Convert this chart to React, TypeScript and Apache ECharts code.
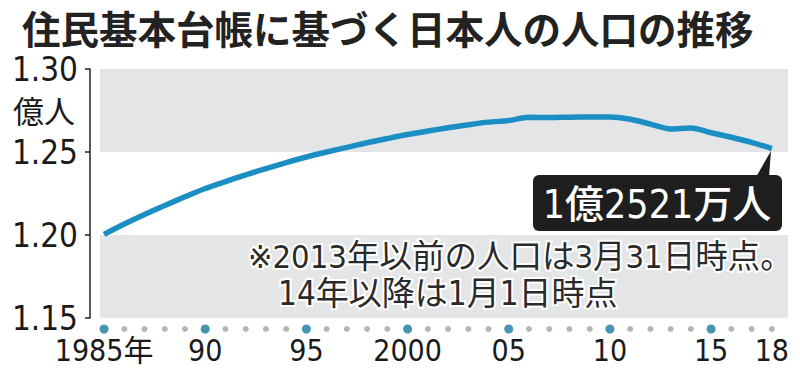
import React, { useEffect, useRef } from "react";
import * as echarts from "echarts";

const years = [
  1985, 1986, 1987, 1988, 1989, 1990, 1991, 1992, 1993, 1994, 1995, 1996,
  1997, 1998, 1999, 2000, 2001, 2002, 2003, 2004, 2005, 2006, 2007, 2008,
  2009, 2010, 2011, 2012, 2013, 2014, 2015, 2016, 2017, 2018,
];
const population = [
  1.2004, 1.2066, 1.2124, 1.2178, 1.223, 1.228, 1.2322, 1.2362, 1.24, 1.2436,
  1.247, 1.25, 1.2528, 1.2556, 1.2581, 1.2605, 1.2626, 1.2646, 1.2664, 1.268,
  1.269, 1.2709, 1.2708, 1.271, 1.2711, 1.2711, 1.2697, 1.2668, 1.2639,
  1.2645, 1.2616, 1.2589, 1.2558, 1.2521,
];
const labelYears = [1985, 1990, 1995, 2000, 2005, 2010, 2015, 2018];
const labelTexts = ["1985年", "90", "95", "2000", "05", "10", "15", "18"];
const highlightYears = [1985, 1990, 1995, 2000, 2005, 2010, 2015];

const title = "住民基本台帳に基づく日本人の人口の推移";
const unitLabel = "億人";
const calloutText = "1億2521万人";
const noteLine1 = "※2013年以前の人口は3月31日時点。";
const noteLine2 = "14年以降は1月1日時点";

const NARROW = "'Liberation Sans Narrow', 'DejaVu Sans Condensed', 'Noto Sans CJK JP', sans-serif";
const CJK = "'Noto Sans CJK JP', 'Noto Sans', sans-serif";

export default function App() {
  const ref = useRef<HTMLDivElement>(null);
  useEffect(() => {
    if (!ref.current) return;
    const chart = echarts.init(ref.current, null, { renderer: "svg" });
    const lineData = years.map((y, i) => [y, population[i]]);
    const dotData = years.map((y) => ({
      value: [y, 0],
      symbolSize: highlightYears.includes(y) ? 9 : 6,
      itemStyle: { color: highlightYears.includes(y) ? "#17799f" : "#a3a3a3" },
    }));
    const labelMap: Record<number, string> = {};
    labelYears.forEach((y, i) => (labelMap[y] = labelTexts[i]));

    chart.setOption({
      animation: false,
      backgroundColor: "#ffffff",
      grid: [
        { left: 100, right: 12, top: 69, bottom: 60 },
        { left: 100, right: 12, top: 324, height: 10 },
      ],
      xAxis: [
        {
          type: "value",
          gridIndex: 0,
          min: 1984.8,
          max: 2018.8,
          axisLine: { show: false },
          axisTick: { show: false },
          splitLine: { show: false },
          axisLabel: {
            show: true,
            customValues: labelYears,
            formatter: (v: number) => labelMap[Math.round(v)] ?? "",
            margin: 17,
            fontSize: 30,
            lineHeight: 30,
            fontFamily: NARROW,
            color: "#1a1a1a",
          },
        },
        {
          type: "value",
          gridIndex: 1,
          min: 1984.8,
          max: 2018.8,
          show: false,
        },
      ],
      yAxis: [
        {
          type: "value",
          gridIndex: 0,
          min: 1.15,
          max: 1.3,
          interval: 0.05,
          offset: 10,
          axisLine: { show: true, lineStyle: { color: "#222", width: 1.5 } },
          axisTick: {
            show: true,
            length: 5,
            lineStyle: { color: "#222", width: 1.5 },
          },
          splitLine: { show: false },
          splitArea: {
            show: true,
            areaStyle: { color: ["#e4e5e7", "#ffffff"] },
          },
          axisLabel: {
            formatter: (v: number) => v.toFixed(2),
            fontSize: 33,
            lineHeight: 24,
            fontFamily: NARROW,
            color: "#1a1a1a",
            margin: 12,
          },
        },
        { type: "value", gridIndex: 1, min: -1, max: 1, show: false },
      ],
      series: [
        {
          type: "line",
          xAxisIndex: 0,
          yAxisIndex: 0,
          data: lineData,
          showSymbol: false,
          smooth: 0.3,
          lineStyle: { color: "#1b8fc4", width: 5.5 },
        },
        {
          type: "scatter",
          xAxisIndex: 1,
          yAxisIndex: 1,
          data: dotData,
          symbol: "circle",
        },
      ],
      graphic: [
        {
          type: "text",
          left: 22,
          top: 8,
          style: {
            text: title,
            font: `bold 38.5px ${CJK}`,
            lineHeight: 32,
            fill: "#222",
          },
        },
        {
          type: "text",
          left: 13,
          top: 94,
          style: {
            text: unitLabel,
            font: `31px ${CJK}`,
            lineHeight: 30,
            fill: "#1a1a1a",
          },
        },
        {
          type: "text",
          left: 246,
          top: 239,
          z: 10,
          style: {
            text: noteLine1,
            font: `32.5px ${NARROW}`,
            fill: "#2a2a2a",
            stroke: "#ffffff",
            lineWidth: 4,
          },
        },
        {
          type: "text",
          left: 276,
          top: 275,
          z: 10,
          style: {
            text: noteLine2,
            font: `33px ${NARROW}`,
            fill: "#2a2a2a",
            stroke: "#ffffff",
            lineWidth: 4,
          },
        },
        {
          type: "polygon",
          z: 10,
          shape: {
            points: [
              [756, 177],
              [769, 177],
              [771, 151],
            ],
          },
          style: { fill: "#1e1e1e" },
        },
        {
          type: "rect",
          z: 10,
          shape: { x: 533, y: 175, width: 249, height: 56, r: 6 },
          style: { fill: "#1e1e1e" },
        },
        {
          type: "text",
          z: 11,
          x: 657,
          y: 204,
          style: {
            text: calloutText,
            font: `500 39px ${NARROW}`,
            fill: "#ffffff",
            align: "center",
            verticalAlign: "middle",
          },
        },
      ],
    });
    return () => chart.dispose();
  }, []);
  return <div ref={ref} style={{ width: 800, height: 378, margin: -8 }} />;
}
